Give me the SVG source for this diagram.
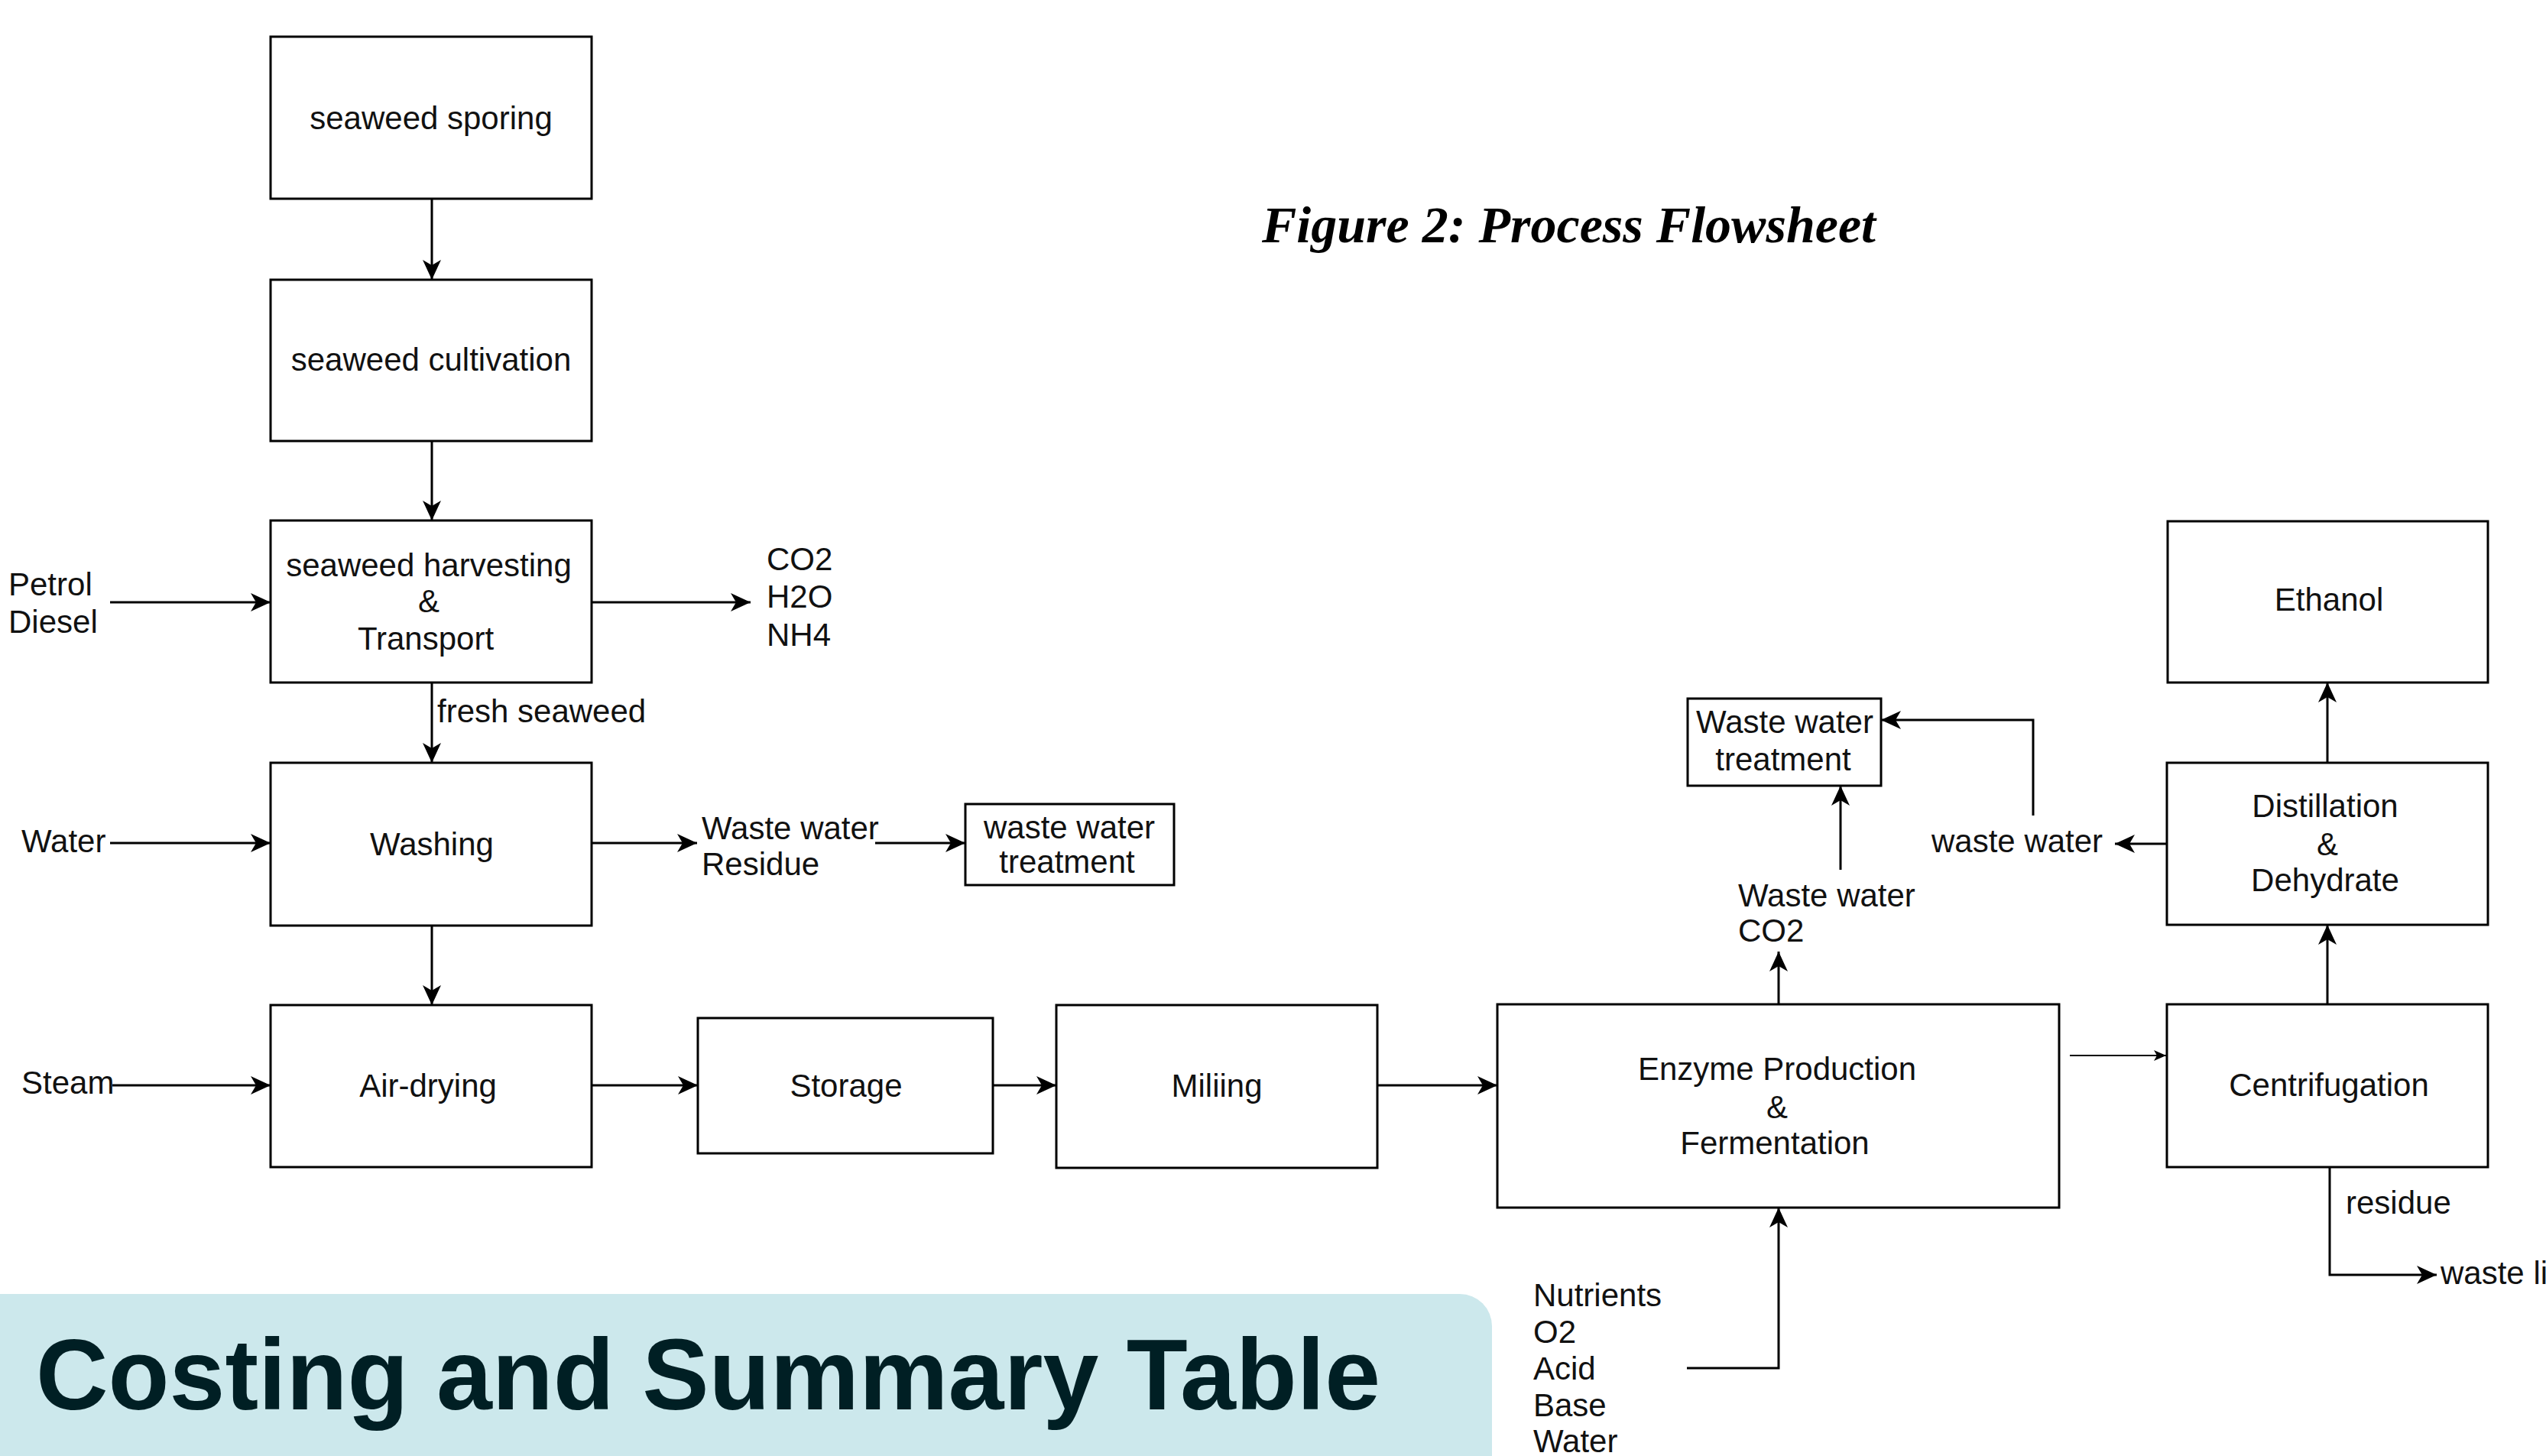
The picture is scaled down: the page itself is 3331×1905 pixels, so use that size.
<svg xmlns="http://www.w3.org/2000/svg" width="3331" height="1905" viewBox="0 0 3331 1905">
<style>
.box{fill:#fff;stroke:#000;stroke-width:3}
.t{font-family:"Liberation Sans",Arial,sans-serif;font-size:42px;fill:#111}
.c{text-anchor:middle}
.ln{fill:none;stroke:#000;stroke-width:3}
.thin{fill:none;stroke:#000;stroke-width:2}
</style>
<defs>
<marker id="arr" viewBox="0 0 26 24" refX="26" refY="12" markerWidth="26" markerHeight="24" orient="auto" markerUnits="userSpaceOnUse"><path d="M0,0 L26,12 L0,24 L7,12 Z" fill="#000"/></marker>
<marker id="arrs" viewBox="0 0 16 14" refX="16" refY="7" markerWidth="16" markerHeight="14" orient="auto" markerUnits="userSpaceOnUse"><path d="M0,0 L16,7 L0,14 L4,7 Z" fill="#000"/></marker>
</defs>
<rect width="3331" height="1905" fill="#fff"/>

<text x="1651" y="317" font-family="'Liberation Serif','Times New Roman',serif" font-size="68" font-weight="bold" font-style="italic" textLength="803" lengthAdjust="spacingAndGlyphs" fill="#000">Figure 2: Process Flowsheet</text>

<g id="connectors">
<line class="ln" x1="565" y1="260" x2="565" y2="366" marker-end="url(#arr)"/>
<line class="ln" x1="565" y1="577" x2="565" y2="681" marker-end="url(#arr)"/>
<line class="ln" x1="565" y1="893" x2="565" y2="998" marker-end="url(#arr)"/>
<line class="ln" x1="565" y1="1211" x2="565" y2="1315" marker-end="url(#arr)"/>
<line class="ln" x1="144" y1="788" x2="354" y2="788" marker-end="url(#arr)"/>
<line class="ln" x1="774" y1="788" x2="982" y2="788" marker-end="url(#arr)"/>
<line class="ln" x1="144" y1="1103" x2="354" y2="1103" marker-end="url(#arr)"/>
<line class="ln" x1="774" y1="1103" x2="912" y2="1103" marker-end="url(#arr)"/>
<line class="ln" x1="1145" y1="1103" x2="1263" y2="1103" marker-end="url(#arr)"/>
<line class="ln" x1="147" y1="1420" x2="354" y2="1420" marker-end="url(#arr)"/>
<line class="ln" x1="774" y1="1420" x2="913" y2="1420" marker-end="url(#arr)"/>
<line class="ln" x1="1299" y1="1420" x2="1382" y2="1420" marker-end="url(#arr)"/>
<line class="ln" x1="1802" y1="1420" x2="1959" y2="1420" marker-end="url(#arr)"/>
<line class="thin" x1="2708" y1="1381" x2="2834" y2="1381" marker-end="url(#arrs)"/>
<line class="ln" x1="3045" y1="1314" x2="3045" y2="1210" marker-end="url(#arr)"/>
<line class="ln" x1="3045" y1="998" x2="3045" y2="893" marker-end="url(#arr)"/>
<line class="ln" x1="2327" y1="1314" x2="2327" y2="1245" marker-end="url(#arr)"/>
<line class="ln" x1="2408" y1="1138" x2="2408" y2="1028" marker-end="url(#arr)"/>
<line class="ln" x1="2835" y1="1104" x2="2767" y2="1104" marker-end="url(#arr)"/>
<path class="ln" d="M2660,1067 V942 H2461" marker-end="url(#arr)"/>
<path class="ln" d="M2207,1790 H2327 V1580" marker-end="url(#arr)"/>
<path class="ln" d="M3048,1527 V1668 H3188" marker-end="url(#arr)"/>
</g>

<g id="n-sporing"><rect class="box" x="354" y="48" width="420" height="212"/><text class="t c" x="564" y="169">seaweed sporing</text></g>
<g id="n-cultivation"><rect class="box" x="354" y="366" width="420" height="211"/><text class="t c" x="564" y="485">seaweed cultivation</text></g>
<g id="n-harvesting"><rect class="box" x="354" y="681" width="420" height="212"/><text class="t c" x="561" y="754">seaweed harvesting</text><text class="t c" x="561" y="801">&amp;</text><text class="t c" x="557" y="850">Transport</text></g>
<g id="n-washing"><rect class="box" x="354" y="998" width="420" height="213"/><text class="t c" x="565" y="1119">Washing</text></g>
<g id="n-airdrying"><rect class="box" x="354" y="1315" width="420" height="212"/><text class="t c" x="560" y="1435">Air-drying</text></g>
<g id="n-storage"><rect class="box" x="913" y="1332" width="386" height="177"/><text class="t c" x="1107" y="1435">Storage</text></g>
<g id="n-milling"><rect class="box" x="1382" y="1315" width="420" height="213"/><text class="t c" x="1592" y="1435">Miliing</text></g>
<g id="n-enzyme"><rect class="box" x="1959" y="1314" width="735" height="266"/><text class="t c" x="2325" y="1413">Enzyme Production</text><text class="t c" x="2325" y="1463">&amp;</text><text class="t c" x="2322" y="1510">Fermentation</text></g>
<g id="n-centrifugation"><rect class="box" x="2835" y="1314" width="420" height="213"/><text class="t c" x="3047" y="1434">Centrifugation</text></g>
<g id="n-distillation"><rect class="box" x="2835" y="998" width="420" height="212"/><text class="t c" x="3042" y="1069">Distillation</text><text class="t c" x="3045" y="1119">&amp;</text><text class="t c" x="3042" y="1166">Dehydrate</text></g>
<g id="n-ethanol"><rect class="box" x="2836" y="682" width="419" height="211"/><text class="t c" x="3047" y="799">Ethanol</text></g>
<g id="n-wwt1"><rect class="box" x="1263" y="1052" width="273" height="106"/><text class="t c" x="1399" y="1097">waste water</text><text class="t c" x="1396" y="1142">treatment</text></g>
<g id="n-wwt2"><rect class="box" x="2208" y="914" width="253" height="114"/><text class="t c" x="2335" y="959">Waste water</text><text class="t c" x="2333" y="1008">treatment</text></g>

<g id="labels">
<text class="t" x="11" y="779">Petrol</text>
<text class="t" x="11" y="828">Diesel</text>
<text class="t" x="1003" y="746">CO2</text>
<text class="t" x="1003" y="795">H2O</text>
<text class="t" x="1003" y="845">NH4</text>
<text class="t" x="572" y="945">fresh seaweed</text>
<text class="t" x="28" y="1115">Water</text>
<text class="t" x="918" y="1098">Waste water</text>
<text class="t" x="918" y="1145">Residue</text>
<text class="t" x="28" y="1431">Steam</text>
<text class="t" x="2274" y="1186">Waste water</text>
<text class="t" x="2274" y="1232">CO2</text>
<text class="t" x="2527" y="1115">waste water</text>
<text class="t" x="3069" y="1588">residue</text>
<text class="t" x="3193" y="1680">waste li</text>
<text class="t" x="2006" y="1709">Nutrients</text>
<text class="t" x="2006" y="1757">O2</text>
<text class="t" x="2006" y="1805">Acid</text>
<text class="t" x="2006" y="1853">Base</text>
<text class="t" x="2006" y="1900">Water</text>
</g>

<g id="banner">
<rect x="-60" y="1693" width="2012" height="300" rx="42" ry="42" fill="#cce8ec"/>
<text x="47" y="1844" font-family="'Liberation Sans',Arial,sans-serif" font-size="131" font-weight="bold" fill="#001f24">Costing and Summary Table</text>
</g>
</svg>
